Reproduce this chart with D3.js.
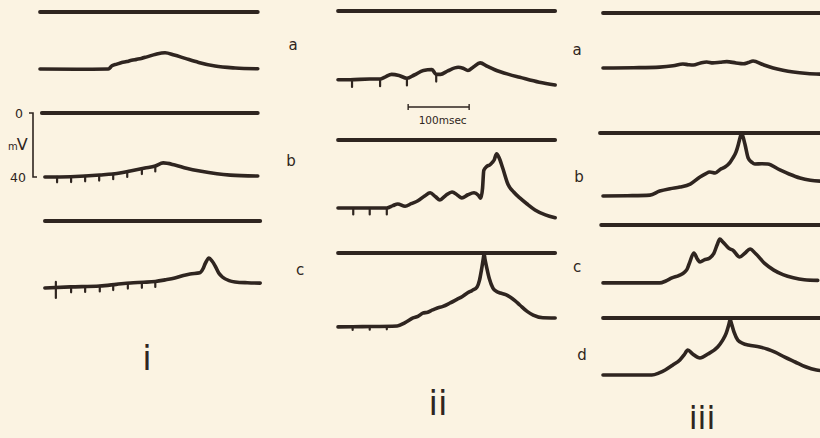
<!DOCTYPE html>
<html><head><meta charset="utf-8">
<script src="https://cdn.jsdelivr.net/npm/d3@7"></script>
<style>
html,body{margin:0;padding:0;background:#fbf3e2;}
svg{display:block}
</style></head><body>
<svg id="chart" width="820" height="438"></svg>
<script>
// ---------------- DATA (time in ms, membrane potential in mV relative to 0 line) ----------------
const panelNames = ["i", "ii", "iii"];
const rowNamesII = ["a", "b", "c"];
const rowNamesIII = ["a", "b", "c", "d"];
const voltLabels = ["0", "40"];
const voltRange = [0, -40];
const scaleBarMs = 100;
const scaleBarLabel = "100msec";

// panel i
const traceIA = [[0,-35.6],[60,-35.8],[112,-35.6],[118,-33.6],[126,-32.6],[134,-31.6],[142,-31],[150,-30.2],[158,-29.6],[166,-29],[174,-28.2],[190,-26.4],[205,-25.5],[220,-26.9],[238,-29],[260,-31.5],[287,-33.8],[320,-35],[357,-35.5]];
const traceIB = [[8,-40],[50,-39.8],[98,-38.8],[131,-37.5],[148,-36.2],[172,-34.4],[189,-33.1],[202,-31.2],[221,-32.5],[240,-34.5],[262,-36.3],[290,-38],[312,-38.8],[357,-39.4]];
const ticksIB = [28, 51, 74, 97, 120, 143, 167, 189];
const traceIC = [[8,-41.9],[50,-41.2],[98,-40.6],[125,-39.6],[148,-38.7],[170,-38.3],[189,-37.8],[205,-36.8],[221,-35.6],[235,-34],[246,-33.1],[262,-32.4],[267,-30],[271,-26.5],[277,-23.1],[282,-25],[287,-28],[293,-32.5],[299,-35],[310,-37.3],[320,-38.1],[340,-38.6],[361,-38.8]];
const ticksIC = [26, 51, 74, 98, 120, 144, 167, 189];

// panel ii
const traceIIA = [[0,-43],[20,-43],[52,-42.5],[69,-42.5],[77,-41.3],[88,-39.6],[100,-40.3],[113,-42],[125,-40],[140,-37.2],[154,-36.6],[161,-39.6],[168,-39.6],[180,-37.4],[197,-35.2],[205,-35.8],[213,-37.2],[222,-35],[233,-32.4],[245,-34.6],[257,-36.7],[280,-39.6],[298,-41.4],[330,-44.5],[356,-46.2]];
const ticksIIA = [23, 69, 113, 161];
const traceIIB = [[0,-42.5],[40,-42.5],[80,-42.5],[90,-41],[98,-40],[110,-41.4],[120,-39.8],[131,-38],[142,-35],[151,-33],[160,-35.5],[167,-37.5],[177,-34.5],[187,-32.5],[196,-34.5],[203,-36.2],[213,-34.2],[223,-33],[230,-34.5],[234,-36.4],[237,-30],[239,-19],[244,-16.5],[249,-15.5],[253,-14],[256,-12.5],[260,-8.6],[264,-11],[270,-17.5],[279,-28],[288,-32.5],[298,-36.2],[310,-40],[323,-43.7],[340,-46.8],[356,-48.6]];
const ticksIIB = [25, 52, 80];
const traceIIC = [[0,-46.2],[40,-46],[97,-45.6],[110,-43.5],[123,-40.6],[131,-39.6],[139,-37.6],[147,-37],[155,-35.6],[162,-34.5],[172,-33.4],[184,-31.2],[195,-29],[204,-27.2],[212,-25],[220,-23.4],[228,-21.2],[232,-17],[235,-11],[238,-4],[239.5,-0.6],[241,-4],[244,-9.5],[248,-16],[254,-21.9],[260,-24],[266,-25],[275,-26],[282,-27.5],[290,-29.8],[298,-32.5],[310,-36.5],[320,-38.8],[336,-40.5],[356,-40.6]];
const ticksIIC = [24, 52, 80];

// panel iii
const traceIIIA = [[0,-34.4],[50,-34.2],[93,-33.8],[115,-33],[131,-31.9],[140,-32.3],[148,-32.5],[160,-31.2],[170,-30.6],[180,-31.2],[192,-30.8],[203,-30.4],[218,-31.2],[230,-31.7],[238,-31],[246,-30],[262,-32.2],[279,-34.4],[295,-35.8],[312,-36.9],[335,-37.8],[360,-38.3]];
const traceIIIB = [[0,-39.4],[40,-39.2],[77,-38.8],[93,-36.3],[110,-34.8],[126,-33.8],[143,-31.9],[159,-27.5],[168,-25.5],[175,-24.4],[184,-25],[192,-22.8],[200,-21.3],[208,-18.5],[213,-15.6],[218,-12],[222,-7],[225,-2.5],[227.5,-0.3],[230,-3],[233,-7.5],[238,-15.6],[244,-18.3],[249,-19.4],[260,-19.2],[270,-19.4],[290,-23.1],[305,-25.6],[323,-28.1],[340,-29.5],[360,-30.2]];
const traceIIIC = [[0,-36.2],[50,-36.2],[93,-36.2],[103,-35],[113,-33.1],[125,-31.5],[134,-29.4],[138,-27.5],[142,-23.5],[149,-17.5],[155,-21.5],[159,-23.1],[166,-21.8],[175,-20.6],[182,-17.5],[187,-12.5],[191.5,-8.8],[196,-10.5],[200,-12],[206,-14.5],[213,-15.8],[224,-20],[233,-17.5],[241,-15],[250,-17.8],[265,-24],[280,-28.2],[295,-31],[312,-33],[330,-34.2],[352,-34.6]];
const traceIIID = [[0,-35.6],[40,-35.6],[80,-35.6],[92,-34.3],[102,-32.5],[114,-29.5],[126,-26.2],[133,-23],[139,-20],[147,-22.5],[159,-25],[172,-22.5],[188,-18.1],[196,-14],[202,-9.5],[206,-4.5],[208.5,-1.2],[211,-4],[215,-9],[221,-13.8],[230,-16],[238,-16.9],[257,-18.1],[270,-19.5],[282,-21.3],[298,-24.5],[315,-27.5],[332,-30.5],[350,-32.5],[360,-33]];

// ---------------- DRAWING ----------------
const W = 820, H = 438;
const ink = "#2f2520";
const paper = "#fbf3e2";
const svg = d3.select("#chart");
svg.append("rect").attr("width", W).attr("height", H).attr("fill", paper);

const PX_PER_MS = 0.61, PX_PER_MV = 1.6;
const xScaleFor = x0 => d3.scaleLinear().domain([0, 100]).range([x0, x0 + 100 * PX_PER_MS]);
const yScaleFor = zeroY => d3.scaleLinear().domain(voltRange).range([zeroY, zeroY + 40 * PX_PER_MV]);

const xI = xScaleFor(40), xII = xScaleFor(338), xIII = xScaleFor(603);

const rows = [
  {x: xI,   zeroY: 12,  zero: [0, 357],  trace: traceIA,   ticks: [],       tickLen: 0},
  {x: xI,   zeroY: 113, zero: [3, 357],  trace: traceIB,   ticks: ticksIB,  tickLen: 3.4},
  {x: xI,   zeroY: 221, zero: [8, 361],  trace: traceIC,   ticks: ticksIC,  tickLen: 3.4, firstBig: true},
  {x: xII,  zeroY: 11,  zero: [0, 356],  trace: traceIIA,  ticks: ticksIIA, tickLen: 4.5},
  {x: xII,  zeroY: 140, zero: [0, 356],  trace: traceIIB,  ticks: ticksIIB, tickLen: 4},
  {x: xII,  zeroY: 253, zero: [0, 356],  trace: traceIIC,  ticks: ticksIIC, tickLen: 2},
  {x: xIII, zeroY: 13,  zero: [0, 362],  trace: traceIIIA, ticks: [],       tickLen: 0},
  {x: xIII, zeroY: 133, zero: [-5, 362], trace: traceIIIB, ticks: [],       tickLen: 0},
  {x: xIII, zeroY: 225, zero: [-3, 362], trace: traceIIIC, ticks: [],       tickLen: 0},
  {x: xIII, zeroY: 318, zero: [0, 362],  trace: traceIIID, ticks: [],       tickLen: 0}
];

function valueAt(trace, t) {
  const i = d3.bisector(d => d[0]).left(trace, t);
  if (i <= 0) return trace[0][1];
  if (i >= trace.length) return trace[trace.length - 1][1];
  const a = trace[i - 1], b = trace[i];
  return a[1] + (b[1] - a[1]) * (t - a[0]) / (b[0] - a[0]);
}

const g = svg.append("g");
rows.forEach(r => {
  const y = yScaleFor(r.zeroY);
  g.append("line")
    .attr("x1", r.x(r.zero[0])).attr("x2", r.x(r.zero[1]))
    .attr("y1", y(0)).attr("y2", y(0))
    .attr("stroke", ink).attr("stroke-width", 3.8).attr("stroke-linecap", "round");
  const line = d3.line().x(d => r.x(d[0])).y(d => y(d[1])).curve(d3.curveMonotoneX);
  g.append("path").attr("d", line(r.trace))
    .attr("fill", "none").attr("stroke", ink).attr("stroke-width", 3.6)
    .attr("stroke-linejoin", "round").attr("stroke-linecap", "round");
  r.ticks.forEach((t, k) => {
    const v = valueAt(r.trace, t);
    const big = r.firstBig && k === 0;
    g.append("line")
      .attr("x1", r.x(t)).attr("x2", r.x(t))
      .attr("y1", y(v + (big ? 3.5 : 0))).attr("y2", y(v - (big ? 6.5 : r.tickLen)))
      .attr("stroke", ink).attr("stroke-width", 2.2).attr("stroke-linecap", "round");
  });
});

// voltage scale bar (panel i, row b)
const yB = yScaleFor(113);
const vx = 33;
g.append("path")
  .attr("d", `M${vx - 4},${yB(voltRange[0])} H${vx} V${yB(voltRange[1])} H${vx + 4}`)
  .attr("fill", "none").attr("stroke", ink).attr("stroke-width", 1.6);
const txt = (x, y, s, size, anchor) => g.append("text")
  .attr("x", x).attr("y", y).attr("fill", ink)
  .attr("font-family", "DejaVu Sans, sans-serif").attr("font-size", size)
  .attr("text-anchor", anchor || "middle").text(s);
txt(19, yB(voltRange[0]) + 4.5, voltLabels[0], 12.5);
txt(18, yB(voltRange[1]) + 4.5, voltLabels[1], 12.5);
const mv = g.append("text").attr("x", 8).attr("y", 150).attr("fill", ink)
  .attr("font-family", "DejaVu Sans, sans-serif");
mv.append("tspan").attr("font-size", 10).text("m");
mv.append("tspan").attr("font-size", 16).attr("dx", -1).text("V");

// time scale bar (panel ii)
const sb0 = 115, sb1 = sb0 + scaleBarMs, sbY = 107;
g.append("path")
  .attr("d", `M${xII(sb0)},${sbY - 3} V${sbY + 3} M${xII(sb0)},${sbY} H${xII(sb1)} M${xII(sb1)},${sbY - 3} V${sbY + 3}`)
  .attr("fill", "none").attr("stroke", ink).attr("stroke-width", 1.4);
txt((xII(sb0) + xII(sb1)) / 2 + 4, 124, scaleBarLabel, 10.5);

// row letters
const letterPosII = [[293, 50], [291, 166], [300, 275]];
rowNamesII.forEach((s, i) => txt(letterPosII[i][0], letterPosII[i][1], s, 15));
const letterPosIII = [[577, 55], [579, 182], [577, 272], [582, 360]];
rowNamesIII.forEach((s, i) => txt(letterPosIII[i][0], letterPosIII[i][1], s, 15));

// panel numerals
const numeralPos = [[147, 370], [438, 415], [702, 429]];
const numeralSize = [34, 34, 32];
panelNames.forEach((s, i) => txt(numeralPos[i][0], numeralPos[i][1], s, numeralSize[i]));
</script>
</body></html>
